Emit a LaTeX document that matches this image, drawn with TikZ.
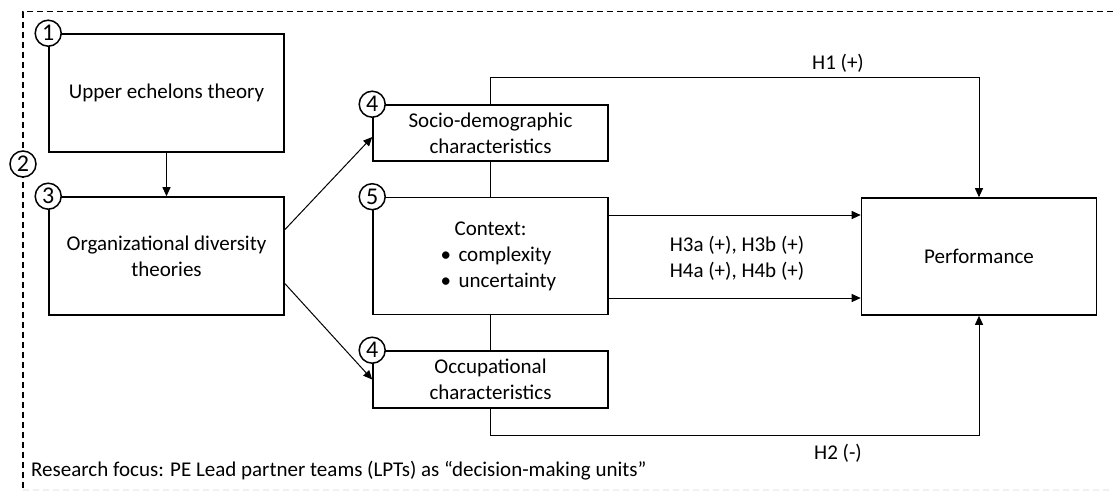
\documentclass[tikz,border=0pt]{standalone}
\usepackage{fontspec}
\setmainfont{Carlito}
\usetikzlibrary{arrows.meta,calc}
\begin{document}
\begin{tikzpicture}[x=1pt,y=-1pt,
  box/.style={draw, line width=1.6pt, minimum width=235pt, align=center, inner sep=0pt, font=\fontsize{21}{26}\selectfont},
  num/.style={circle, draw, line width=1.5pt, fill=white, minimum size=26pt, inner sep=0pt, font=\fontsize{24}{24}\selectfont},
  conn/.style={line width=1pt},
  arr/.style={conn, -{Triangle[length=9pt,width=8pt]}},
  lbl/.style={font=\fontsize{21}{26}\selectfont},
  frame/.style={line width=1.6pt, dash pattern=on 6pt off 4pt}]
\useasboundingbox (0,0) rectangle (1113,491);
% dashed frame
\draw[frame] (1113,11.5) coordinate (fTR) -- (23,11.5) coordinate (fTL) -- (23,491) coordinate (fBL);
\draw[frame, black!6] (23,490) coordinate (fB1) -- (1113,490) coordinate (fB2);

% boxes
\node[box, minimum height=118pt] (ue) at (166.5,93) {Upper echelons theory};
\node[box, minimum height=118pt] (od) at (166.5,256) {Organizational diversity\\theories};
\node[box, minimum height=56pt] (sd) at (490.5,133) {Socio-demographic\\characteristics};
\node[box, minimum height=117pt] (cx) at (490.5,256) {Context:\\\makebox[100pt][l]{\makebox[18pt][l]{\textbullet}complexity}\\\makebox[100pt][l]{\makebox[18pt][l]{\textbullet}uncertainty}};
\node[box, minimum height=57pt] (oc) at (490.5,379.5) {Occupational\\characteristics};
\node[box, minimum height=117pt] (pf) at (979,256.5) {Performance};

% numbered circles
\node[num] (n1) at (ue.north west) {1};
\node[num] (n2) at (23,164) {2};
\node[num] (n3) at (od.north west) {3};
\node[num] (n4a) at (sd.north west) {4};
\node[num] (n5) at (cx.north west) {5};
\node[num] (n4b) at (oc.north west) {4};

% connectors
\draw[arr] (ue.south) -- (od.north);
\draw[arr] ($(od.north east)!0.28!(od.south east)$) -- ($(sd.west)+(0,4)$);
\draw[arr] ($(od.north east)!0.73!(od.south east)$) -- (oc.west);
\draw[conn] (sd.south) -- (cx.north);
\draw[conn] (cx.south) -- (oc.north);
\coordinate (h1a) at (490.5,77.5);
\coordinate (h1b) at (979,77.5);
\draw[arr] (sd.north) -- (h1a) -- (h1b) -- (pf.north);
\coordinate (h2a) at (490.5,435.5);
\coordinate (h2b) at (979,435.5);
\draw[arr] (oc.south) -- (h2a) -- (h2b) -- (pf.south);
\draw[arr] (cx.east |- 0,215) -- (pf.west |- 0,215);
\draw[arr] (cx.east |- 0,298) -- (pf.west |- 0,298);

% labels
\node[lbl] (lh1) at (838,63) {H1 (+)};
\node[lbl] (lh2) at (838,453) {H2 (-)};
\node[lbl, align=center] (lh3) at (737,258.5) {H3a (+), H3b (+)\\H4a (+), H4b (+)};
\node[lbl, anchor=west, inner sep=0pt] (rf) at (31,471) {Research focus: PE Lead partner teams (LPTs) as “decision-making units”};
\end{tikzpicture}
\end{document}
